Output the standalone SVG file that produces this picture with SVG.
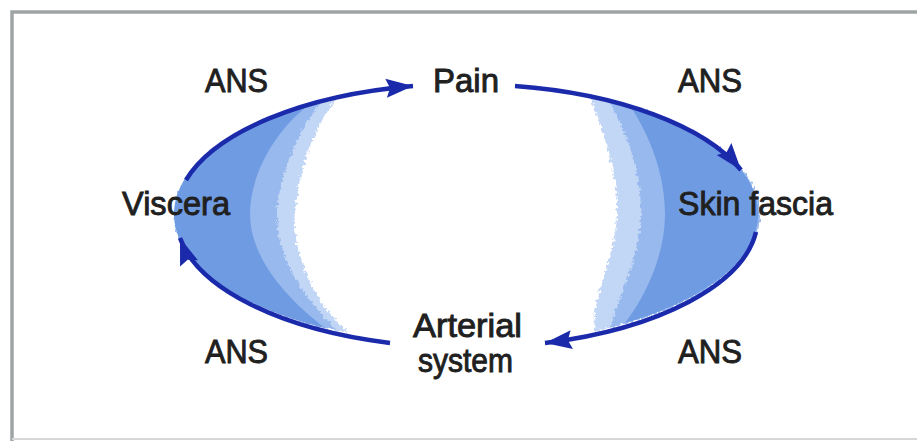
<svg xmlns="http://www.w3.org/2000/svg" width="917" height="441" viewBox="0 0 917 441">
<defs>
<style>
.lbl{font-family:"Liberation Sans",Arial,sans-serif;font-size:33px;fill:#202020;stroke:#202020;stroke-width:0.9}
.arc{fill:none;stroke:#1a2aab;stroke-width:4.5}
.frame{fill:none;stroke:#9ea4a4;stroke-width:3.5}
</style>
<marker id="ah" markerUnits="userSpaceOnUse" markerWidth="32" markerHeight="22" refX="27" refY="9.5" orient="auto" overflow="visible">
<path d="M0,0 L27,9.5 L0,19 L4,9.5 Z" fill="#1a2aab"/>
</marker>
<filter id="rough" x="-10%" y="-10%" width="120%" height="120%">
<feTurbulence type="fractalNoise" baseFrequency="0.35" numOctaves="2" seed="3"/>
<feDisplacementMap in="SourceGraphic" scale="7" xChannelSelector="R" yChannelSelector="G"/>
</filter>
</defs>
<rect width="917" height="441" fill="#ffffff"/>
<path class="frame" d="M12,441 L12,12 L917,12"/>
<line x1="12" y1="439" x2="917" y2="439" stroke="#d6d8d8" stroke-width="2"/>
<g id="fill-left">
<path d="M337,98 A291,130 0 0 0 350,333 C320,310 292,260 295,215 C298,170 315,125 337,98 Z" fill="#c2d6f5" filter="url(#rough)"/>
<path d="M322,101 A291,130 0 0 0 338,331 C305,300 275,255 277,214 C279,172 300,128 322,101 Z" fill="#97b9ee" filter="url(#rough)"/>
<path d="M310,104 A291,130 0 0 0 325,328 C282,295 250,255 250,214 C250,175 275,130 310,104 Z" fill="#6f9be3"/>
</g>
<g id="fill-right">
<path d="M590,96 A291,130 0 0 1 595,331 C590,300 615,260 617,215 C619,170 600,125 590,96 Z" fill="#c2d6f5" filter="url(#rough)"/>
<path d="M608,100 A291,130 0 0 1 610,328 C620,295 640,255 641,214 C642,172 625,128 608,100 Z" fill="#97b9ee" filter="url(#rough)"/>
<path d="M630,106 A291,130 0 0 1 625,323 C650,290 665,250 665,214 C665,175 650,135 630,106 Z" fill="#6f9be3"/>
</g>
<g id="connectors">
<path class="arc" d="M186,180 A291,130 0 0 1 413,86" marker-end="url(#ah)"/>
<path class="arc" d="M515,86 A291,130 0 0 1 741,170" marker-end="url(#ah)"/>
<path class="arc" d="M756,232 A291,130 0 0 1 545,343" marker-end="url(#ah)"/>
<path class="arc" d="M390,343 A291,130 0 0 1 180,238" marker-end="url(#ah)"/>
</g>
<g id="node-pain"><text class="lbl" x="433" y="92" textLength="66" lengthAdjust="spacingAndGlyphs">Pain</text></g>
<g id="node-skin"><text class="lbl" x="678" y="215" textLength="155" lengthAdjust="spacingAndGlyphs">Skin fascia</text></g>
<g id="node-arterial">
<text class="lbl" x="413" y="337" textLength="109" lengthAdjust="spacingAndGlyphs">Arterial</text>
<text class="lbl" x="418" y="372" textLength="95" lengthAdjust="spacingAndGlyphs">system</text>
</g>
<g id="node-viscera"><text class="lbl" x="122" y="215" textLength="108" lengthAdjust="spacingAndGlyphs">Viscera</text></g>
<g id="labels">
<text class="lbl" x="205" y="92" textLength="63" lengthAdjust="spacingAndGlyphs">ANS</text>
<text class="lbl" x="678" y="92" textLength="64" lengthAdjust="spacingAndGlyphs">ANS</text>
<text class="lbl" x="205" y="363" textLength="63" lengthAdjust="spacingAndGlyphs">ANS</text>
<text class="lbl" x="678" y="363" textLength="64" lengthAdjust="spacingAndGlyphs">ANS</text>
</g>
</svg>
